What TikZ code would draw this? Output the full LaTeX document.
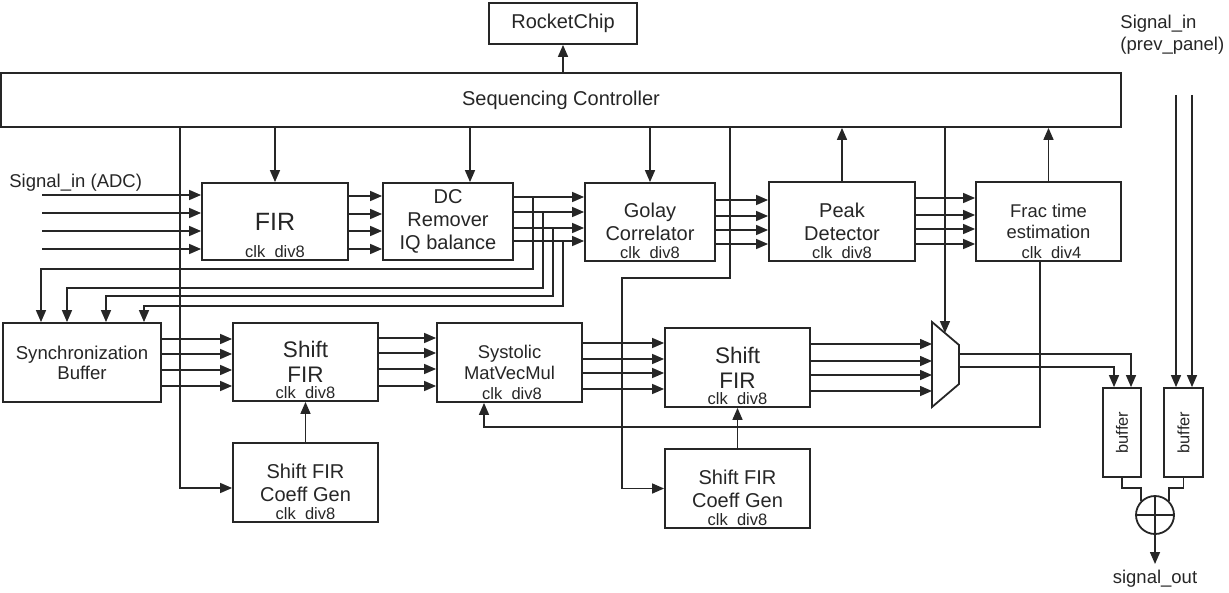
\documentclass[tikz,border=0pt]{standalone}
\usepackage{fontspec}
\setmainfont{Liberation Sans}
\usetikzlibrary{arrows.meta, calc}
\definecolor{DiagInk}{HTML}{262626}
\tikzset{
    % Box styles - all sharp corners
    block/.style={
        rectangle,
        draw=DiagInk,
        fill=white,
        line width=0.9pt,
        minimum width=72.5pt,
        minimum height=39pt,
        inner sep=1pt,
        align=center,
        text=DiagInk,
        font=\fontsize{10}{11.5}\selectfont
    },
    clk/.style={
        anchor=base,
        inner sep=0pt,
        text=DiagInk,
        font=\fontsize{8.25}{9}\selectfont
    },
    lbl/.style={
        inner sep=0pt,
        text=DiagInk,
        font=\fontsize{9.25}{11}\selectfont
    },
    buflabel/.style={
        rotate=90,
        inner sep=0pt,
        text=DiagInk,
        font=\fontsize{8.2}{9}\selectfont
    },
    % Arrow styles - straight lines only
    arrow/.style={
        -{Triangle[length=6pt,width=5pt]},
        line width=0.75pt,
        draw=DiagInk
    },
    wire/.style={
        line width=0.75pt,
        draw=DiagInk
    }
}

\begin{document}
\begin{tikzpicture}[x=0.5pt, y=-0.5pt]
    \useasboundingbox (0,0) rectangle (1229,593);

    % control
    \node[block, minimum width=74pt, minimum height=20.5pt] (rocket) at (563,23.5) {RocketChip};
    \node[block, minimum width=560pt, minimum height=27pt] (seq) at (561,100) {Sequencing Controller};

    % receive chain
    \node[block, minimum width=73pt, minimum height=38.5pt, font=\fontsize{12.5}{14}\selectfont] (fir) at (275,221.5) {FIR};
    \node[clk] (fir-clk) at ([yshift=1.75pt]fir.south) {clk\_div8};
    \node[block, minimum width=65pt, minimum height=38.5pt] (dc) at (448,221.5) {DC\\Remover\\IQ balance};
    \node[block, minimum width=65pt] (golay) at (650,222) {Golay\\Correlator};
    \node[clk] (golay-clk) at ([yshift=1.75pt]golay.south) {clk\_div8};
    \node[block, minimum width=73pt, minimum height=39.5pt] (peak) at (842,221.5) {Peak\\Detector};
    \node[clk] (peak-clk) at ([yshift=1.75pt]peak.south) {clk\_div8};
    \node[block, minimum height=39.5pt, font=\fontsize{9.2}{10.5}\selectfont] (frac) at (1048.5,221.5) {Frac time\\estimation};
    \node[clk] (frac-clk) at ([yshift=1.75pt, xshift=1.5pt]frac.south) {clk\_div4};

    % equalizer chain
    \node[block, minimum width=79pt, minimum height=39.5pt, font=\fontsize{9.3}{10}\selectfont] (sync) at (82,362.5) {Synchronization\\Buffer};
    \node[block, font=\fontsize{11.25}{12.5}\selectfont] (sfir1) at (305.5,362) {Shift\\FIR};
    \node[clk] (sfir1-clk) at ([yshift=1.75pt]sfir1.south) {clk\_div8};
    \node[block, minimum height=39.5pt, font=\fontsize{9.2}{10.5}\selectfont] (mvm) at (509.5,362.5) {Systolic\\MatVecMul};
    \node[clk] (mvm-clk) at ([yshift=1.75pt, xshift=1.25pt]mvm.south) {clk\_div8};
    \node[block, minimum height=39.5pt] (coeff1) at (305.5,482.5) {Shift FIR\\Coeff Gen};
    \node[clk] (coeff1-clk) at ([yshift=1.75pt]coeff1.south) {clk\_div8};
    \node[block, minimum height=39.5pt, font=\fontsize{11.25}{12.5}\selectfont] (sfir2) at (737.5,367.5) {Shift\\FIR};
    \node[clk] (sfir2-clk) at ([yshift=1.75pt]sfir2.south) {clk\_div8};
    \node[block, minimum height=39.5pt] (coeff2) at (737.5,488.5) {Shift FIR\\Coeff Gen};
    \node[clk] (coeff2-clk) at ([yshift=1.75pt]coeff2.south) {clk\_div8};

    % mux
    \coordinate (mux-tl) at (932,322);
    \coordinate (mux-tr) at (959,345);
    \coordinate (mux-br) at (959,384);
    \coordinate (mux-bl) at (932,407);
    \draw[wire, line width=0.9pt, fill=white] (mux-tl) -- (mux-tr) -- (mux-br) -- (mux-bl) -- cycle;
    \coordinate (mux-sel) at ($(mux-tl)!0.48!(mux-tr)$);

    % output stage
    \node[block, minimum width=19pt, minimum height=44.5pt, label={[buflabel]center:buffer}] (buf1) at (1122,432.5) {};
    \node[block, minimum width=19.5pt, minimum height=44.5pt, label={[buflabel]center:buffer}] (buf2) at (1183.5,432.5) {};
    \node[circle, draw=DiagInk, line width=0.9pt, minimum size=19pt, inner sep=0pt] (sum) at (1155,515) {};

    % free labels
    \node[lbl, anchor=base west] (adc-in) at (9,187.5) {Signal\_in (ADC)};
    \coordinate (adc) at (42,222);
    \node[lbl, anchor=north west, align=left] (prev-in) at (1120,15) {Signal\_in\\(prev\_panel)};
    \coordinate (prev) at (1184,95);
    \node[lbl, inner ysep=3pt, anchor=north] (sig-out) at (1155,564) {signal\_out};

    % controller links
    \draw[arrow] (rocket.south |- seq.north) -- (rocket.south);
    \draw[arrow] (fir.north |- seq.south) -- (fir.north);
    \draw[arrow] (seq.south -| 470,0) -- (dc.north -| 470,0);
    \draw[arrow] (golay.north |- seq.south) -- (golay.north);
    \draw[arrow] (peak.north) -- (peak.north |- seq.south);
    \draw[arrow] (frac.north) -- (frac.north |- seq.south);
    \draw[arrow] (seq.south -| 180,0) |- (coeff1.west |- 0,488);
    \draw[arrow] (seq.south -| 730,0) |- (622,278) |- (coeff2.west);
    \draw[arrow] (seq.south -| mux-sel) -- (mux-sel);
    \draw[arrow] (coeff1) -- (sfir1);
    \draw[arrow] (coeff2) -- (sfir2);
    \draw[arrow] (frac.south -| 1040,0) |- (484,427) -- (mvm.south -| 484,0);

    % data buses
    \foreach \y in {195,213,231,249}
        \draw[arrow] (adc |- 0,\y) -- (fir.west |- 0,\y);
    \foreach \y in {196,214,231,249}
        \draw[arrow] (fir.east |- 0,\y) -- (dc.west |- 0,\y);
    \foreach \y in {197,212,228,241}
        \draw[arrow] (dc.east |- 0,\y) -- (golay.west |- 0,\y);
    \foreach \y/\tx/\ty/\dx in {197/533/269/41, 212/543/288/67, 228/553/296/106, 241/563/306/144}
        \draw[arrow] (\tx,\y) |- (\dx,\ty) -- (sync.north -| \dx,0);
    \foreach \y in {200,216,230,244}
        \draw[arrow] (golay.east |- 0,\y) -- (peak.west |- 0,\y);
    \foreach \y in {198,215,229,244}
        \draw[arrow] (peak.east |- 0,\y) -- (frac.west |- 0,\y);
    \foreach \y in {339,354,370,386}
        \draw[arrow] (sync.east |- 0,\y) -- (sfir1.west |- 0,\y);
    \foreach \y in {338,353,369,386}
        \draw[arrow] (sfir1.east |- 0,\y) -- (mvm.west |- 0,\y);
    \foreach \y in {343,359,373,389}
        \draw[arrow] (mvm.east |- 0,\y) -- (sfir2.west |- 0,\y);
    \foreach \y in {344,361,375,391}
        \draw[arrow] (sfir2.east |- 0,\y) -- (mux-tl |- 0,\y);

    % mux and previous panel into buffers
    \draw[arrow] (mux-tr |- 0,354) -| (buf1.north -| 1131,0);
    \draw[arrow] (mux-tr |- 0,367) -| (buf1.north -| 1114,0);
    \draw[arrow] (prev -| 1176,0) -- (buf2.north -| 1176,0);
    \draw[arrow] (prev -| 1192,0) -- (buf2.north -| 1192,0);

    % combine
    \draw[wire] (buf1.south) -- ++(0,10) -| (sum.north west);
    \draw[wire] (buf2.south) -- ++(0,10) -| (sum.north east);
    \draw[wire] (sum.north) -- (sum.south) (sum.west) -- (sum.east);
    \draw[arrow] (sum) -- (sig-out);
\end{tikzpicture}
\end{document}
